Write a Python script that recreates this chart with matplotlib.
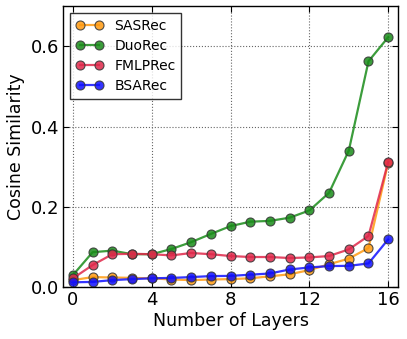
import matplotlib
matplotlib.use("Agg")
import matplotlib.pyplot as plt

# ---------------------------------------------------------------
# dados
# ---------------------------------------------------------------
layers = list(range(17))

sasrec = [0.0175, 0.025, 0.024, 0.023, 0.022, 0.019, 0.0175, 0.019, 0.020,
          0.022, 0.027, 0.032, 0.0425, 0.057, 0.071, 0.0975, 0.310]
duorec = [0.030, 0.087, 0.091, 0.082, 0.082, 0.095, 0.112, 0.1325, 0.152,
          0.163, 0.165, 0.173, 0.191, 0.235, 0.340, 0.5625, 0.6225]
fmlprec = [0.022, 0.055, 0.082, 0.083, 0.082, 0.079, 0.085, 0.082, 0.0775,
           0.075, 0.075, 0.0725, 0.074, 0.0775, 0.094, 0.1275, 0.312]
bsarec = [0.012, 0.013, 0.0175, 0.020, 0.022, 0.023, 0.025, 0.0275, 0.028,
          0.031, 0.034, 0.044, 0.049, 0.0525, 0.053, 0.059, 0.119]

series = [
    ("SASRec", sasrec, "#ff9a10"),
    ("DuoRec", duorec, "#1a8c1a"),
    ("FMLPRec", fmlprec, "#e0284a"),
    ("BSARec", bsarec, "#1010ff"),
]

xticks = [0, 4, 8, 12, 16]
yticks = [0.0, 0.2, 0.4, 0.6]

# ---------------------------------------------------------------
# gráfico
# ---------------------------------------------------------------
fig = plt.figure(figsize=(4.07, 3.39), dpi=100)
ax = fig.add_axes([0.155, 0.153, 0.823, 0.829])

for nome, vals, cor in series:
    ax.plot(layers, vals, color=cor, lw=1.6, marker="o", markersize=6.5,
            markeredgecolor="#333333", markeredgewidth=0.8, alpha=0.85,
            label=nome)

ax.set_xlim(-0.5, 16.5)
ax.set_ylim(0, 0.7)
ax.set_xticks(xticks)
ax.set_yticks(yticks)
ax.set_yticklabels([f"{v:.1f}" for v in yticks])
ax.tick_params(direction="in", top=True, right=True, labelsize=13,
               length=4, width=0.8, pad=3)
ax.grid(True, linestyle=":", color="#666666", linewidth=0.8)
for s in ax.spines.values():
    s.set_linewidth(1.0)
    s.set_color("black")

ax.set_xlabel("Number of Layers", fontsize=12.5, labelpad=2)
ax.set_ylabel("Cosine Similarity", fontsize=12.5, labelpad=4)

leg = ax.legend(loc="upper left", fontsize=10, numpoints=2, fancybox=False,
                borderaxespad=0.5, handlelength=2.0, labelspacing=0.45,
                borderpad=0.4, handletextpad=0.8)
leg.get_frame().set_edgecolor("black")
leg.get_frame().set_linewidth(1.0)

fig.savefig("out.png", dpi=100)
